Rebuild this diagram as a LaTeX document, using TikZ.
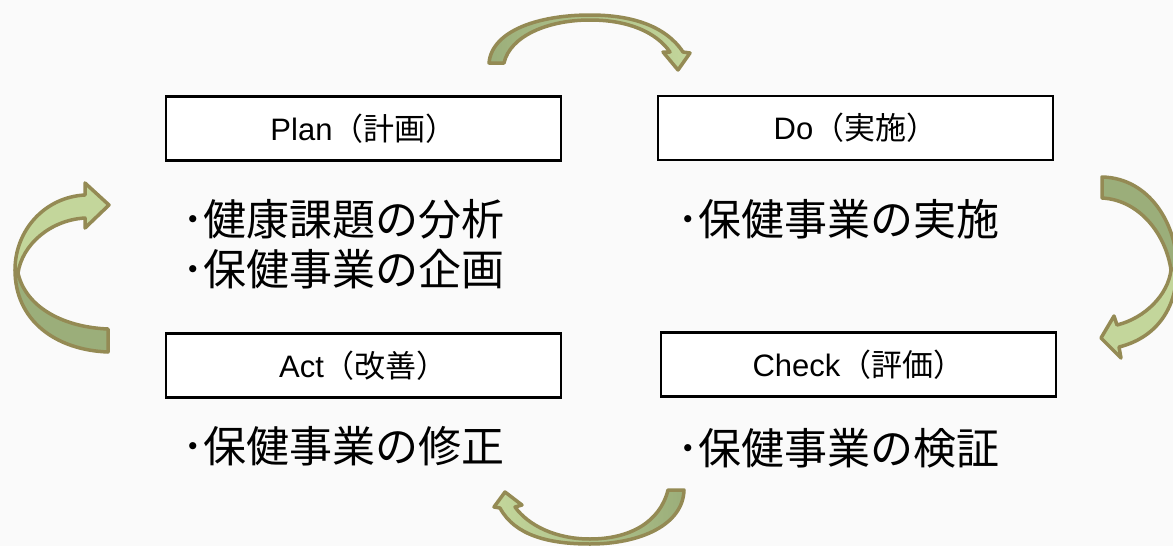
\documentclass[tikz,border=0pt]{standalone}
\usepackage{fontspec}
\setmainfont{Liberation Sans}
\newfontfamily\jp{Noto Sans CJK JP}
\definecolor{bg}{HTML}{FAFAFA}
\definecolor{arwline}{HTML}{948A54}
\definecolor{arwlight}{HTML}{C3D69B}
\definecolor{arwdark}{HTML}{9BAE7A}
\tikzset{
  box/.style={draw=black, line width=2.2pt, fill=white, minimum width=395pt, minimum height=64pt, inner sep=0pt,
    font=\fontsize{31}{31}\selectfont},
  body/.style={inner sep=0pt, font=\jp\fontsize{43}{43}\selectfont},
  arw/.style={draw=arwline, line width=3.5pt, line join=round},
}
\begin{document}
\begin{tikzpicture}[x=1pt,y=-1pt]
\fill[bg] (0,0) rectangle (1173,546);
\useasboundingbox (0,0) rectangle (1173,546);

% boxes
\node[box] (plan)  at (363.5,128.5) {Plan{\jp（計画）}};
\node[box] (do)    at (855.5,128)   {Do{\jp（実施）}};
\node[box] (act)   at (363.5,365.5) {Act{\jp（改善）}};
\node[box] (check) at (858.5,364.5) {Check{\jp（評価）}};

% body texts
\node[body, anchor=base west] (t1) at (182,235) {･健康課題の分析};
\node[body, anchor=base west] (t2) at (182,285) {･保健事業の企画};
\node[body, anchor=base west] (t3) at (677,235) {･保健事業の実施};
\node[body, anchor=base west] (t4) at (182,462) {･保健事業の修正};
\node[body, anchor=base west] (t5) at (677,464) {･保健事業の検証};

% left arrow (Act -> Plan)
\path[arw, fill=arwdark] (15,270) .. controls (15,320) and (55,350) .. (108,352) -- (108,329)
   .. controls (60,327) and (25,305) .. (18,273) -- cycle;
\path[arw, fill=arwlight] (15,270) .. controls (15,230) and (45,197) .. (85,195) -- (85,183) -- (109,205)
   -- (85,228) -- (85,218) .. controls (50,220) and (22,245) .. (18,273) -- cycle;

% right arrow (Do -> Check)
\path[arw, fill=arwdark] (1102,177) .. controls (1150,178) and (1177,225) .. (1177,268) -- (1171,270)
   .. controls (1166,235) and (1140,200) .. (1102,198) -- cycle;
\path[arw, fill=arwlight] (1177,268) .. controls (1177,310) and (1155,338) .. (1119,347) -- (1121,358)
   -- (1101,338) -- (1114,316) -- (1117,325) .. controls (1145,318) and (1168,295) .. (1171,270) -- cycle;

% top arrow (Plan -> Do)
\path[arw, left color=arwdark, right color=arwlight] (489,63) -- (504,63)
   .. controls (510,36) and (548,20) .. (590,20) .. controls (628,20) and (656,32) .. (670,52)
   -- (663,52) -- (678,70) -- (690,53) -- (683,52)
   .. controls (665,25) and (630,15) .. (590,15) .. controls (540,15) and (492,30) .. (489,63) -- cycle;

% bottom arrow (Check -> Act)
\path[arw, left color=arwlight, right color=arwdark] (684,490) -- (668,490)
   .. controls (660,522) and (630,539) .. (590,539) .. controls (555,539) and (528,525) .. (515,507)
   -- (522,505) -- (505,492) -- (494,507) -- (500,508)
   .. controls (515,536) and (550,544) .. (590,544) .. controls (640,544) and (683,525) .. (684,490) -- cycle;
\end{tikzpicture}
\end{document}
